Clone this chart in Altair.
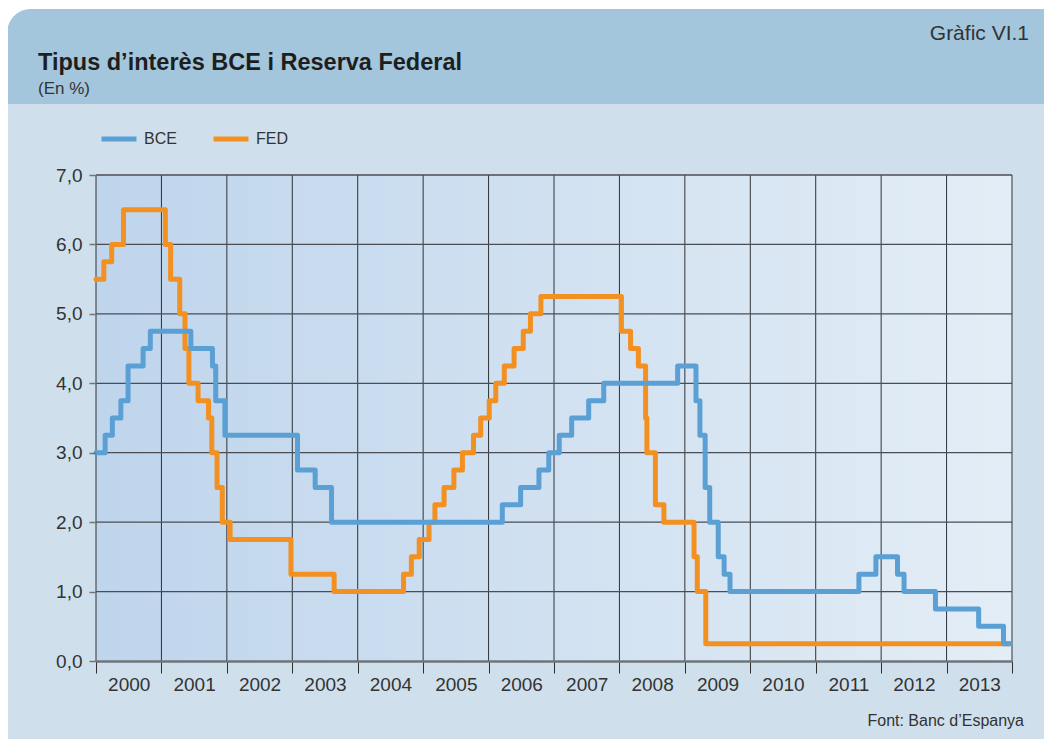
import altair as alt
import pandas as pd

# ---- data (x in chart years, y in %) ----
bce_x = [2000.0, 2000.14, 2000.25, 2000.38, 2000.49, 2000.72, 2000.83, 2001.45, 2001.78,
         2001.83, 2001.97, 2003.08, 2003.35, 2003.60, 2006.21, 2006.49, 2006.77, 2006.92,
         2007.08, 2007.27, 2007.53, 2007.76, 2008.89, 2009.17, 2009.23, 2009.31, 2009.38,
         2009.51, 2009.60, 2009.69, 2011.66, 2011.92, 2012.25, 2012.35, 2012.83, 2013.49,
         2013.87, 2013.97]
bce_y = [3.00, 3.25, 3.50, 3.75, 4.25, 4.50, 4.75, 4.50, 4.25,
         3.75, 3.25, 2.75, 2.50, 2.00, 2.25, 2.50, 2.75, 3.00,
         3.25, 3.50, 3.75, 4.00, 4.25, 3.75, 3.25, 2.50, 2.00,
         1.50, 1.25, 1.00, 1.25, 1.50, 1.25, 1.00, 0.75, 0.50,
         0.25, 0.25]

fed_x = [2000.0, 2000.12, 2000.24, 2000.42, 2001.06, 2001.14, 2001.28, 2001.36, 2001.42,
         2001.56, 2001.72, 2001.77, 2001.85, 2001.93, 2002.05, 2002.98, 2003.64, 2004.70,
         2004.82, 2004.94, 2005.09, 2005.18, 2005.32, 2005.47, 2005.60, 2005.77, 2005.88,
         2006.01, 2006.11, 2006.24, 2006.39, 2006.53, 2006.64, 2006.80, 2008.03, 2008.17,
         2008.29, 2008.40, 2008.42, 2008.55, 2008.68, 2009.14, 2009.19, 2009.32, 2013.97]
fed_y = [5.50, 5.75, 6.00, 6.50, 6.00, 5.50, 5.00, 4.50, 4.00,
         3.75, 3.50, 3.00, 2.50, 2.00, 1.75, 1.25, 1.00, 1.25,
         1.50, 1.75, 2.00, 2.25, 2.50, 2.75, 3.00, 3.25, 3.50,
         3.75, 4.00, 4.25, 4.50, 4.75, 5.00, 5.25, 4.75, 4.50,
         4.25, 3.50, 3.00, 2.25, 2.00, 1.50, 1.00, 0.25, 0.25]

series = ["BCE", "FED"]
colors = ["#5aa0d5", "#f39022"]
year_ticks = list(range(2000, 2015))
y_ticks = [0, 1, 2, 3, 4, 5, 6, 7]

bce_df = pd.DataFrame({"x": bce_x, "y": bce_y, "serie": "BCE"})
fed_df = pd.DataFrame({"x": fed_x, "y": fed_y, "serie": "FED"})
xgrid_df = pd.DataFrame({"x": year_ticks})
ygrid_df = pd.DataFrame({"y": y_ticks[1:]})

W, H = 916, 486
FONT = "Liberation Sans"

one = pd.DataFrame({"k": [0]})

x_scale = alt.Scale(domain=[2000, 2014], nice=False, zero=False)
y_scale = alt.Scale(domain=[0, 7], nice=False)

body_bg = alt.Chart(one).mark_rect(color="#cfe0ec").encode(
    x=alt.value(-88), x2=alt.value(W + 32), y=alt.value(-72), y2=alt.value(H + 78))
header = alt.Chart(one).mark_rect(color="#a3c6dc", cornerRadiusTopLeft=24).encode(
    x=alt.value(-89), x2=alt.value(W + 32), y=alt.value(-166), y2=alt.value(-71))
plot_bg = alt.Chart(one).mark_rect(
    fill=alt.Gradient(gradient="linear",
                      stops=[alt.GradientStop(color="#bfd5ec", offset=0),
                             alt.GradientStop(color="#e3edf6", offset=1)],
                      x1=0, x2=1, y1=0, y2=0)
).encode(x=alt.value(0), x2=alt.value(W), y=alt.value(0), y2=alt.value(H))

xgrid = alt.Chart(xgrid_df).mark_rule(color="#2f3236", strokeWidth=1).encode(
    x=alt.X("x:Q", scale=x_scale), y=alt.value(0), y2=alt.value(H))
ygrid = alt.Chart(ygrid_df).mark_rule(color="#4a4e54", strokeWidth=1.3).encode(
    y=alt.Y("y:Q", scale=y_scale), x=alt.value(0), x2=alt.value(W))

legend = alt.Legend(title=None, orient="none", legendX=3, legendY=-56, direction="horizontal",
                    symbolType="stroke", symbolSize=1225, symbolStrokeWidth=5,
                    labelFontSize=16, labelFont=FONT, labelColor="#333333",
                    labelOffset=5, columnPadding=26)

color_enc = alt.Color("serie:N", scale=alt.Scale(domain=series, range=colors), legend=legend)

x_enc = alt.X("x:Q", scale=x_scale,
              axis=alt.Axis(values=year_ticks, title=None, grid=False, zindex=1,
                            domainColor="#6f747a", domainWidth=2.5,
                            tickColor="#2e2e2e", tickSize=12, tickWidth=1,
                            labelExpr="datum.value < 2014 ? toString(datum.value) : ''",
                            labelOffset=32.7, labelPadding=2, labelFontSize=19,
                            labelFont=FONT, labelColor="#333333", labelFlush=False,
                            labelOverlap=False))
y_enc = alt.Y("y:Q", scale=y_scale,
              axis=alt.Axis(values=y_ticks, title=None, grid=False, zindex=1,
                            domain=False, tickColor="#6f747a", tickSize=7,
                            tickWidth=1.5, labelPadding=7, labelFontSize=19, labelFont=FONT,
                            labelColor="#333333",
                            labelExpr="replace(format(datum.value, '.1f'), '.', ',')"))

line_kw = dict(interpolate="step-after", strokeWidth=5, strokeJoin="round", strokeCap="round")
fed_line = alt.Chart(fed_df).mark_line(**line_kw).encode(x=x_enc, y=y_enc, color=color_enc)
bce_line = alt.Chart(bce_df).mark_line(**line_kw).encode(x=x_enc, y=y_enc, color=color_enc)

title = alt.Chart(one).mark_text(text="Tipus d’interès BCE i Reserva Federal", align="left",
                                 baseline="alphabetic", fontSize=23.5, fontWeight="bold",
                                 font=FONT, color="#1e1e1e").encode(
    x=alt.value(-58), y=alt.value(-105))
subtitle = alt.Chart(one).mark_text(text="(En %)", align="left", baseline="alphabetic",
                                    fontSize=17, font=FONT, color="#333333").encode(
    x=alt.value(-58), y=alt.value(-81))
grafic = alt.Chart(one).mark_text(text="Gràfic VI.1", align="right", baseline="alphabetic",
                                  fontSize=21, font=FONT, color="#333333").encode(
    x=alt.value(W + 17), y=alt.value(-135))
source = alt.Chart(one).mark_text(text="Font: Banc d’Espanya", align="right",
                                  baseline="alphabetic", fontSize=16, font=FONT,
                                  color="#333333").encode(
    x=alt.value(W + 12), y=alt.value(H + 65))

chart = alt.layer(body_bg, header, plot_bg, xgrid, ygrid, fed_line, bce_line,
                  title, subtitle, grafic, source).properties(
    width=W, height=H, autosize="none",
    padding={"left": 88, "top": 167, "right": 32, "bottom": 78},
    background="#ffffff"
).configure_view(stroke=None)

chart.save("out.html", embed_options={"renderer": "svg", "actions": False})
